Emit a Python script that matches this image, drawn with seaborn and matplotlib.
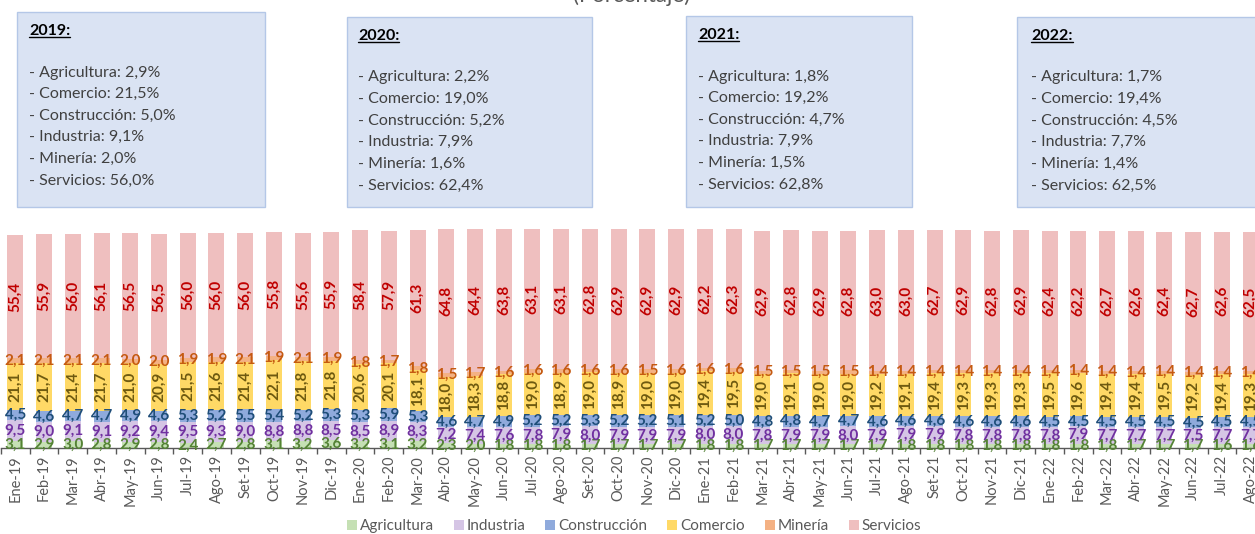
import numpy as np
import pandas as pd
import matplotlib.pyplot as plt
import seaborn as sns
from matplotlib.patches import Rectangle, Patch
from matplotlib.lines import Line2D

# Meses (Ene-19 a Ago-22)
meses = ['Ene-19', 'Feb-19', 'Mar-19', 'Abr-19', 'May-19', 'Jun-19', 'Jul-19', 'Ago-19', 'Set-19', 'Oct-19', 'Nov-19', 'Dic-19',
         'Ene-20', 'Feb-20', 'Mar-20', 'Abr-20', 'May-20', 'Jun-20', 'Jul-20', 'Ago-20', 'Set-20', 'Oct-20', 'Nov-20', 'Dic-20',
         'Ene-21', 'Feb-21', 'Mar-21', 'Abr-21', 'May-21', 'Jun-21', 'Jul-21', 'Ago-21', 'Set-21', 'Oct-21', 'Nov-21', 'Dic-21',
         'Ene-22', 'Feb-22', 'Mar-22', 'Abr-22', 'May-22', 'Jun-22', 'Jul-22', 'Ago-22']

agricultura = [3.1, 2.9, 3.0, 2.8, 2.9, 2.8, 2.4, 2.7, 2.8, 3.1, 3.2, 3.6,
               3.2, 3.1, 3.2, 2.3, 2.0, 1.8, 1.8, 1.8, 1.7, 1.7, 1.7, 1.7,
               1.8, 1.8, 1.7, 1.7, 1.7, 1.7, 1.7, 1.8, 1.8, 1.8, 1.8, 1.8,
               1.8, 1.8, 1.8, 1.7, 1.7, 1.7, 1.6, 1.6]
industria = [9.5, 9.0, 9.1, 9.1, 9.2, 9.4, 9.5, 9.3, 9.0, 8.8, 8.8, 8.5,
             8.5, 8.9, 8.3, 7.2, 7.4, 7.6, 7.8, 7.9, 8.0, 7.9, 7.9, 7.9,
             8.0, 8.0, 7.8, 7.9, 7.9, 8.0, 7.9, 7.9, 7.9, 7.8, 7.8, 7.8,
             7.8, 7.9, 7.7, 7.7, 7.7, 7.5, 7.7, 7.7]
construccion = [4.5, 4.6, 4.7, 4.7, 4.9, 4.6, 5.3, 5.2, 5.5, 5.4, 5.2, 5.3,
                5.3, 5.9, 5.3, 4.6, 4.7, 4.9, 5.2, 5.2, 5.3, 5.2, 5.2, 5.1,
                5.2, 5.0, 4.8, 4.8, 4.7, 4.7, 4.6, 4.6, 4.6, 4.6, 4.6, 4.6,
                4.5, 4.5, 4.5, 4.5, 4.5, 4.5, 4.5, 4.5]
comercio = [21.1, 21.7, 21.4, 21.7, 21.0, 20.9, 21.5, 21.6, 21.4, 22.1, 21.8, 21.8,
            20.6, 20.1, 18.1, 18.0, 18.3, 18.8, 19.0, 18.9, 19.0, 18.9, 19.0, 19.0,
            19.4, 19.5, 19.0, 19.1, 19.0, 19.0, 19.2, 19.1, 19.4, 19.3, 19.3, 19.3,
            19.5, 19.6, 19.4, 19.4, 19.5, 19.2, 19.4, 19.3]
mineria = [2.1, 2.1, 2.1, 2.1, 2.0, 2.0, 1.9, 1.9, 2.1, 1.9, 2.1, 1.9,
           1.8, 1.7, 1.8, 1.5, 1.7, 1.6, 1.6, 1.6, 1.6, 1.6, 1.5, 1.6,
           1.6, 1.6, 1.5, 1.5, 1.5, 1.5, 1.4, 1.4, 1.4, 1.4, 1.4, 1.4,
           1.4, 1.4, 1.4, 1.4, 1.4, 1.4, 1.4, 1.4]
servicios = [55.4, 55.9, 56.0, 56.1, 56.5, 56.5, 56.0, 56.0, 56.0, 55.8, 55.6, 55.9,
             58.4, 57.9, 61.3, 64.8, 64.4, 63.8, 63.1, 63.1, 62.8, 62.9, 62.9, 62.9,
             62.2, 62.3, 62.9, 62.8, 62.9, 62.8, 63.0, 63.0, 62.7, 62.9, 62.8, 62.9,
             62.4, 62.2, 62.7, 62.6, 62.4, 62.7, 62.6, 62.5]

# Promedios anuales (cuadros de texto)
anios = ['2019', '2020', '2021', '2022']
res_agricultura = [2.9, 2.2, 1.8, 1.7]
res_comercio = [21.5, 19.0, 19.2, 19.4]
res_construccion = [5.0, 5.2, 4.7, 4.5]
res_industria = [9.1, 7.9, 7.9, 7.7]
res_mineria = [2.0, 1.6, 1.5, 1.4]
res_servicios = [56.0, 62.4, 62.8, 62.5]

W, H = 1255, 534


def fx(px):
    return px / W


def fy(py):
    return 1 - py / H


def fmt(v):
    return f"{v:.1f}".replace('.', ',')


sns.set_theme(style="white")
plt.rcParams['font.family'] = ['Lato', 'DejaVu Sans']

fig = plt.figure(figsize=(W / 100, H / 100), dpi=100)
fig.patch.set_facecolor('white')
ax = fig.add_axes([fx(1), 86 / H, fx(1264), 222.6 / H])

series = [
    ('Agricultura', agricultura, '#C5E0B4', '#548235', 0),
    ('Industria', industria, '#D5C5E5', '#7030A0', 0),
    ('Construcción', construccion, '#8FAADC', '#1F4E79', 0),
    ('Comercio', comercio, '#FFD966', '#6E5A10', 90),
    ('Minería', mineria, '#F4B183', '#C55A11', 0),
    ('Servicios', servicios, '#EFBFBF', '#C00000', 90),
]

bottom = np.zeros(len(meses))
for nombre, valores, color, lcolor, rot in series:
    sns.barplot(x=meses, y=valores, color=color, saturation=1, width=0.56,
                errorbar=None, bottom=bottom.copy(), linewidth=0, ax=ax)
    bottom += np.array(valores)

for (nombre, valores, color, lcolor, rot), cont in zip(series, ax.containers):
    ax.bar_label(cont, labels=[fmt(v) for v in valores], label_type='center',
                 rotation=rot, color=lcolor, fontsize=11, fontweight='bold')

ax.set_ylim(0, 100)
ax.set_xlim(-0.5, len(meses) - 0.5)
ax.set_yticks([])
ax.set_xlabel('')
ax.set_ylabel('')
sns.despine(ax=ax, left=True)
ax.spines['bottom'].set_color('#595959')
ax.spines['bottom'].set_linewidth(1)
ax.set_xticks(np.arange(-0.5, len(meses), 1), minor=True)
ax.tick_params(axis='x', which='major', length=0, pad=5, labelrotation=90,
               labelsize=10.5, labelcolor='#595959')
ax.tick_params(axis='x', which='minor', length=4, width=1, color='#595959',
               direction='out', bottom=True)
ax.patch.set_alpha(0)

# Título recortado
fig.text(fx(632), fy(2), '(Porcentaje)', ha='center', va='baseline',
         fontsize=16, color='#595959')

# Cuadros de resumen anual
box_x = [17, 347, 686, 1017]
box_w = [248, 245, 226, 260]
box_top = [12, 17, 16, 17]
box_bottom = 207
text_x = [29, 358, 698, 1031]

headers = []
for i, anio in enumerate(anios):
    fig.add_artist(Rectangle((fx(box_x[i]), fy(box_bottom)), fx(box_w[i]),
                             (box_bottom - box_top[i]) / H,
                             transform=fig.transFigure, facecolor='#DAE3F3',
                             edgecolor='#B4C7E7', linewidth=1))
    t = fig.text(fx(text_x[i]), fy(box_top[i] + 19), anio + ':',
                 ha='left', va='center', fontsize=11.5, fontweight='bold', color='black')
    headers.append(t)
    lineas = [f"- Agricultura: {fmt(res_agricultura[i])}%",
              f"- Comercio: {fmt(res_comercio[i])}%",
              f"- Construcción: {fmt(res_construccion[i])}%",
              f"- Industria: {fmt(res_industria[i])}%",
              f"- Minería: {fmt(res_mineria[i])}%",
              f"- Servicios: {fmt(res_servicios[i])}%"]
    for k, s in enumerate(lineas):
        fig.text(fx(text_x[i]), fy(box_top[i] + 60.5 + k * 21.6), s,
                 ha='left', va='center', fontsize=11.5, color='#404040')

# Subrayado de los encabezados
fig.canvas.draw()
renderer = fig.canvas.get_renderer()
for t in headers:
    bb = t.get_window_extent(renderer)
    yy = bb.y0 + 1
    fig.add_artist(Line2D([bb.x0 / W, bb.x1 / W], [yy / H, yy / H],
                          transform=fig.transFigure, color='black', linewidth=1))

# Leyenda
handles = [Patch(facecolor=c, edgecolor='none', label=n) for n, _, c, _, _ in series]
fig.legend(handles=handles, loc='center', bbox_to_anchor=(fx(634), fy(526)),
           ncol=6, frameon=False, fontsize=11, handlelength=0.65, handleheight=0.65,
           handletextpad=0.2, columnspacing=1.3, labelcolor='#595959')

fig.savefig('out.png', dpi=100)
